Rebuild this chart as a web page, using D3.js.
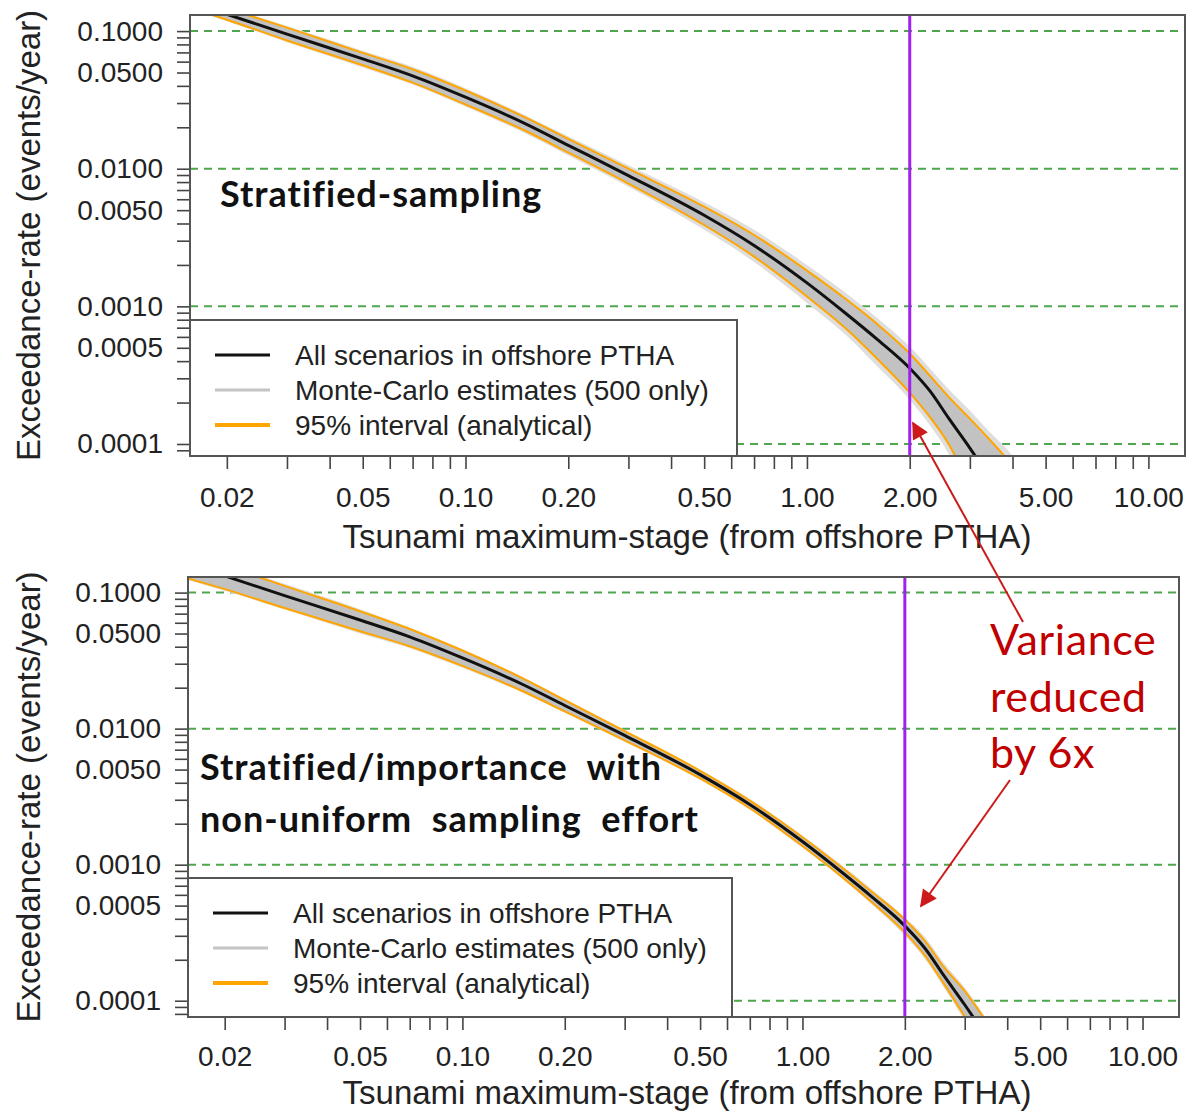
<!DOCTYPE html>
<html>
<head>
<meta charset="utf-8">
<script src="https://cdn.jsdelivr.net/npm/d3@7"></script>
<style>
body { margin: 0; background: #fff; }
svg { display: block; }
</style>
</head>
<body>
<div class="chart"></div>
<script>
let stage = [0.0156, 0.02, 0.03, 0.05, 0.07, 0.1, 0.15, 0.2, 0.3, 0.5, 0.7, 1.0, 1.3, 1.6, 2.0, 2.3, 2.6, 3.0, 3.4, 3.8, 4.2];

// exceedance-rate from all scenarios (same in both panels)
let allScenarios = [0.162, 0.1326, 0.095, 0.0629, 0.0473, 0.0331, 0.0212, 0.0148, 0.00892, 0.00459, 0.00277, 0.00148, 0.000887, 0.00058, 0.000355, 0.00024, 0.000154, 0.0000934, 0.0000588, 0.0000385, 0.000026];

// stratified-sampling: 95% interval + spread of the 500 monte-carlo curves
let stratUpper = [0.179, 0.146, 0.106, 0.0695, 0.0528, 0.037, 0.0235, 0.0165, 0.01, 0.0053, 0.0033, 0.00182, 0.00113, 0.00075, 0.000454, 0.00031, 0.00022, 0.000153, 0.00011, 0.000081, 0.00006];
let stratLower = [0.148, 0.121, 0.0855, 0.0565, 0.0422, 0.0293, 0.0188, 0.0131, 0.0078, 0.0039, 0.0023, 0.00118, 0.00069, 0.00042, 0.000236, 0.000155, 0.0001, 0.00005, 0.00003, 0.00002, 0.000013];
let stratMcHigh = [0.184, 0.15, 0.109, 0.072, 0.055, 0.0385, 0.0244, 0.0172, 0.0106, 0.0057, 0.0036, 0.002, 0.00125, 0.00083, 0.00051, 0.00035, 0.00025, 0.000175, 0.000125, 0.000095, 0.00007];
let stratMcLow = [0.144, 0.118, 0.083, 0.0545, 0.041, 0.0283, 0.018, 0.0125, 0.0074, 0.0036, 0.0021, 0.00106, 0.00062, 0.00037, 0.00021, 0.000135, 0.000085, 0.000042, 0.000025, 0.000017, 0.000011];

// stratified/importance with non-uniform sampling effort
let importUpper = [0.195, 0.158, 0.112, 0.073, 0.054, 0.0375, 0.0235, 0.0162, 0.0096, 0.0049, 0.00296, 0.00159, 0.00096, 0.00063, 0.000395, 0.000272, 0.000178, 0.000118, 0.000076, 0.00005, 0.000034];
let importLower = [0.127, 0.106, 0.077, 0.052, 0.0403, 0.0289, 0.0189, 0.0134, 0.0082, 0.0043, 0.0026, 0.00137, 0.00082, 0.00053, 0.000318, 0.000212, 0.000134, 0.0000765, 0.000046, 0.00003, 0.00002];
let importMcHigh = [0.203, 0.163, 0.116, 0.0755, 0.0555, 0.0385, 0.024, 0.0166, 0.0098, 0.005, 0.00305, 0.00164, 0.001, 0.00066, 0.00041, 0.00029, 0.00019, 0.000125, 0.00008, 0.000054, 0.000037];
let importMcLow = [0.124, 0.103, 0.075, 0.05, 0.039, 0.028, 0.0184, 0.0131, 0.008, 0.0042, 0.00254, 0.00133, 0.0008, 0.00051, 0.0003, 0.0002, 0.000126, 0.000071, 0.000042, 0.000027, 0.000018];

let xLabelVals = [0.02, 0.05, 0.1, 0.2, 0.5, 1, 2, 5, 10];
let yLabelVals = [0.1, 0.05, 0.01, 0.005, 0.001, 0.0005, 0.0001];
let refRates = [0.1, 0.01, 0.001, 0.0001];
let markStage = 2;

let legendLabels = ["All scenarios in offshore PTHA", "Monte-Carlo estimates (500 only)", "95% interval (analytical)"];
let legendColors = ["#111", "#c4c4c4", "#ffa500"];
let noteLines = ["Variance", "reduced", "by 6x"];

let xTitle = "Tsunami maximum-stage (from offshore PTHA)";
let yTitle = "Exceedance-rate (events/year)";

let sansFont = "'Liberation Sans', Arial, Helvetica, sans-serif";
let calibriLike = "Lato, 'Open Sans', sans-serif";

let svg = d3.select(".chart").append("svg")
    .attr("width", 1192)
    .attr("height", 1113);

let defs = svg.append("defs");
defs.append("marker")
    .attr("id", "arrowhead")
    .attr("viewBox", "0 0 10 10")
    .attr("refX", 9).attr("refY", 5)
    .attr("markerUnits", "userSpaceOnUse")
    .attr("markerWidth", 22).attr("markerHeight", 17)
    .attr("orient", "auto")
    .append("path")
    .attr("d", "M0,0 L10,5 L0,10 z")
    .attr("fill", "#cc1a1a");

let panels = [
    {left: 190, right: 1185, top: 15, bottom: 456, yDomain: [0.0000818, 0.1309],
     upper: stratUpper, lower: stratLower, mcHigh: stratMcHigh, mcLow: stratMcLow,
     label: ["Stratified-sampling"], labelX: 220, labelY: 207,
     legend: {x0: 190, x1: 737, y0: 320}, tickBase: 507, titleBase: 548},
    {left: 188, right: 1179, top: 577, bottom: 1017, yDomain: [0.0000759, 0.1302],
     upper: importUpper, lower: importLower, mcHigh: importMcHigh, mcLow: importMcLow,
     label: ["Stratified/importance  with", "non-uniform  sampling  effort"], labelX: 200, labelY: 780,
     legend: {x0: 188, x1: 732, y0: 878}, tickBase: 1066, titleBase: 1104}
];

panels.forEach(drawPanel);
drawNote();

function drawPanel(p, i){
    const xScale = d3.scaleLog().domain([0.0156, 12.8]).range([p.left, p.right]);
    const yScale = d3.scaleLog().domain(p.yDomain).range([p.bottom, p.top]);

    const rows = stage.map((s, k) => ({
        s: s, mid: allScenarios[k], hi: p.upper[k], lo: p.lower[k],
        mcHi: p.mcHigh[k], mcLo: p.mcLow[k]
    }));

    const clipId = "clip" + i;
    defs.append("clipPath").attr("id", clipId)
        .append("rect")
        .attr("x", p.left).attr("y", p.top)
        .attr("width", p.right - p.left).attr("height", p.bottom - p.top);

    const plot = svg.append("g").attr("clip-path", `url(#${clipId})`);

    // green reference lines
    plot.selectAll(".ref").data(refRates).enter().append("line")
        .attr("x1", p.left).attr("x2", p.right)
        .attr("y1", d => yScale(d)).attr("y2", d => yScale(d))
        .attr("stroke", "#4fa64f")
        .attr("stroke-width", 2)
        .attr("stroke-dasharray", "8,6");

    const band = (a, b) => d3.area()
        .x(d => xScale(d.s))
        .y0(d => yScale(d[a]))
        .y1(d => yScale(d[b]))
        .curve(d3.curveMonotoneX);

    // monte-carlo cloud
    plot.append("path").datum(rows)
        .attr("fill", "#dedede")
        .attr("d", band("mcLo", "mcHi"));
    plot.append("path").datum(rows)
        .attr("fill", "#c2c2c2")
        .attr("d", band("lo", "hi"));

    const curve = key => d3.line()
        .x(d => xScale(d.s))
        .y(d => yScale(d[key]))
        .curve(d3.curveMonotoneX);

    ["hi", "lo"].forEach(function(key){
        plot.append("path").datum(rows)
            .attr("fill", "none")
            .attr("stroke", "#ffa500")
            .attr("stroke-width", 2)
            .attr("d", curve(key));
    });

    plot.append("path").datum(rows)
        .attr("fill", "none")
        .attr("stroke", "#111")
        .attr("stroke-width", 3)
        .attr("stroke-linejoin", "round")
        .attr("d", curve("mid"));

    // purple marker at 2 m
    plot.append("line")
        .attr("x1", xScale(markStage)).attr("x2", xScale(markStage))
        .attr("y1", p.top).attr("y2", p.bottom)
        .attr("stroke", "#a020f0")
        .attr("stroke-width", 3);

    // axes
    const isLabel = (list, d) => list.some(v => Math.abs(v - d) < v * 1e-6);

    const xAxis = svg.append("g")
        .attr("transform", `translate(0, ${p.bottom})`)
        .call(d3.axisBottom(xScale)
            .tickValues(xScale.ticks())
            .tickFormat(d => isLabel(xLabelVals, d) ? d3.format(".2f")(d) : "")
            .tickSize(13)
            .tickSizeOuter(0)
            .tickPadding(p.tickBase - p.bottom - 13 - 20));
    styleAxis(xAxis);

    const yAxis = svg.append("g")
        .attr("transform", `translate(${p.left}, 0)`)
        .call(d3.axisLeft(yScale)
            .tickValues(yScale.ticks())
            .tickFormat(d => isLabel(yLabelVals, d) ? d3.format(".4f")(d) : "")
            .tickSize(13)
            .tickSizeOuter(0)
            .tickPadding(14));
    styleAxis(yAxis);

    // frame
    svg.append("rect")
        .attr("x", p.left).attr("y", p.top)
        .attr("width", p.right - p.left).attr("height", p.bottom - p.top)
        .attr("fill", "none")
        .attr("stroke", "#555")
        .attr("stroke-width", 2);

    // axis titles
    svg.append("text")
        .attr("x", 687).attr("y", p.titleBase)
        .attr("text-anchor", "middle")
        .attr("font-family", sansFont)
        .attr("font-size", 33)
        .attr("fill", "#222")
        .text(xTitle);

    svg.append("text")
        .attr("transform", `translate(28, ${(p.top + p.bottom) / 2}) rotate(-90)`)
        .attr("text-anchor", "middle")
        .attr("dy", "0.35em")
        .attr("font-family", sansFont)
        .attr("font-size", 33)
        .attr("fill", "#222")
        .text(yTitle);

    // panel label
    svg.append("text")
        .attr("x", p.labelX).attr("y", p.labelY)
        .attr("font-family", calibriLike)
        .attr("font-weight", "bold")
        .attr("font-size", 36)
        .attr("letter-spacing", 1)
        .attr("fill", "#111")
        .style("white-space", "pre")
        .selectAll("tspan").data(p.label).enter().append("tspan")
        .attr("x", p.labelX)
        .attr("dy", (d, k) => k === 0 ? 0 : 52)
        .text(d => d);

    // legend
    const lg = svg.append("g");
    lg.append("rect")
        .attr("x", p.legend.x0).attr("y", p.legend.y0)
        .attr("width", p.legend.x1 - p.legend.x0)
        .attr("height", p.bottom - p.legend.y0)
        .attr("fill", "#fff")
        .attr("stroke", "#555")
        .attr("stroke-width", 2);
    const entry = lg.selectAll(".entry").data(legendLabels).enter().append("g")
        .attr("transform", (d, k) => `translate(${p.legend.x0}, ${p.legend.y0 + 35 + k * 35})`);
    entry.append("line")
        .attr("x1", 25).attr("x2", 80)
        .attr("stroke", (d, k) => legendColors[k])
        .attr("stroke-width", (d, k) => k === 2 ? 4 : 3);
    entry.append("text")
        .attr("x", 105)
        .attr("dy", "0.35em")
        .attr("font-family", sansFont)
        .attr("font-size", 28)
        .attr("fill", "#222")
        .text(d => d);
}

function styleAxis(g){
    g.select(".domain").remove();
    g.selectAll(".tick line").attr("stroke", "#444").attr("stroke-width", 1.6);
    g.selectAll(".tick text")
        .attr("font-family", sansFont)
        .attr("font-size", 28)
        .attr("fill", "#222");
}

function drawNote(){
    svg.append("g").selectAll("text").data(noteLines).enter()
        .append("text")
        .attr("x", 990)
        .attr("y", (d, k) => 655 + k * 56.5)
        .attr("font-family", calibriLike)
        .attr("font-size", 43)
        .attr("letter-spacing", 0.6)
        .attr("fill", "#c00000")
        .text(d => d);

    let arrows = [
        [[1023, 622], [913, 423]],
        [[1010, 780], [921, 906]]
    ];
    svg.selectAll(".arrow").data(arrows).enter().append("line")
        .attr("x1", d => d[0][0]).attr("y1", d => d[0][1])
        .attr("x2", d => d[1][0]).attr("y2", d => d[1][1])
        .attr("stroke", "#cc1a1a")
        .attr("stroke-width", 2)
        .attr("marker-end", "url(#arrowhead)");
}
</script>
</body>
</html>
